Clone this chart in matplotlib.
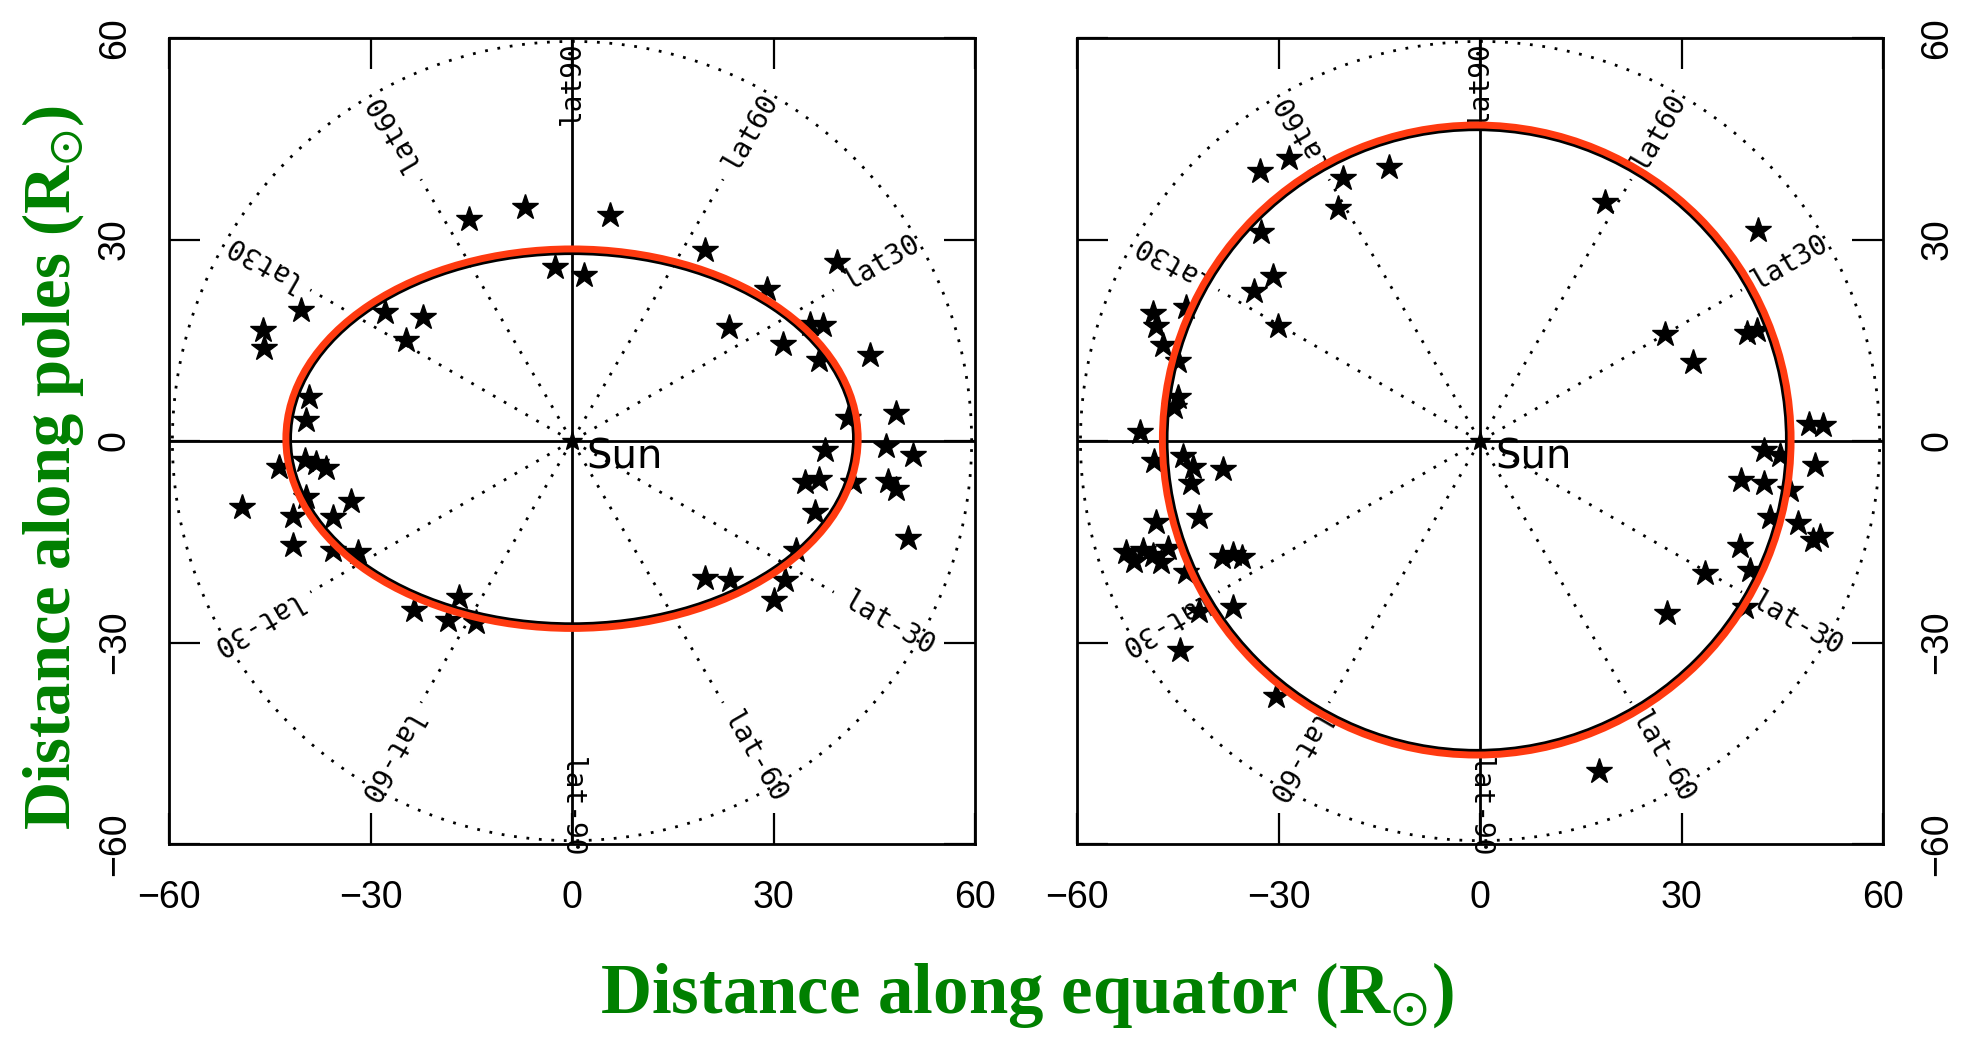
import numpy as np
import matplotlib
matplotlib.use('Agg')
import matplotlib.pyplot as plt
from matplotlib.patches import Ellipse

plt.rcParams['font.family'] = ['Liberation Sans', 'DejaVu Sans']
plt.rcParams['mathtext.fontset'] = 'stix'

# event positions (R_sun): x along equator, y along poles
left_x = [-46.0, -45.9, -40.3, -27.9, -22.2, -24.7,
          -15.4, -7.0, 5.7, -2.5, 1.8,
          19.8, 29.0, 39.4, 23.3, 31.4, 35.4, 37.4,
          36.7, 44.3, 41.1, 48.3,
          -39.1, -39.6,
          -43.6, -39.8, -38.1, -36.6,
          -49.1, -39.6, -32.9, -41.6, -35.6,
          -41.6, -35.6, -31.9,
          -23.5, -18.5, -16.8, -14.3,
          37.6, 46.8, 50.8,
          34.7, 36.7, 41.9, 47.0, 48.3,
          36.2, 50.0, 33.4,
          19.8, 23.5, 31.7, 30.0]
left_y = [16.5, 13.8, 19.5, 19.2, 18.5, 15.0,
          33.1, 34.9, 33.6, 25.9, 24.7,
          28.4, 22.7, 26.7, 17.0, 14.5, 17.5, 17.3,
          12.1, 12.8, 3.4, 4.1,
          6.6, 3.1,
          -3.8, -2.8, -3.3, -4.0,
          -9.8, -8.3, -9.0, -11.2, -11.3,
          -15.5, -16.2, -16.5,
          -25.1, -26.6, -23.2, -27.0,
          -1.3, -0.8, -2.1,
          -6.1, -5.6, -6.1, -6.0, -7.2,
          -10.5, -14.5, -16.2,
          -20.4, -20.7, -20.7, -23.7]

right_x = [-32.8, -28.4, -20.4, -13.5, -21.2,
           -32.6, -30.9, -33.6, -30.1,
           -48.7, -43.8, -48.2, -47.2, -45.0,
           -45.5, -45.0, -50.7,
           -48.5, -44.2, -42.8, -38.3, -43.0,
           -41.8, -48.2,
           -52.7, -51.5, -50.2, -48.7, -47.5, -46.5,
           -38.5, -36.8, -35.5,
           -43.8, -41.8, -36.8, -44.7, -30.4,
           18.6, 41.4, 27.5, 31.7, 39.7, 41.2,
           48.9, 51.1, 42.2, 44.6, 49.9,
           38.9, 42.2, 46.1,
           43.2, 47.4, 49.6, 50.6, 38.7,
           40.2, 33.5, 39.4, 27.8, 17.7]
right_y = [40.2, 42.2, 39.1, 40.8, 34.7,
           31.1, 24.5, 22.3, 17.1,
           19.0, 19.9, 17.1, 14.3, 11.9,
           5.0, 6.5, 1.4,
           -3.0, -2.2, -3.8, -4.1, -6.3,
           -11.3, -12.1,
           -16.5, -17.8, -16.2, -17.0, -18.0, -16.0,
           -17.3, -16.8, -17.2,
           -19.5, -25.3, -24.7, -31.1, -37.9,
           35.6, 31.4, 16.0, 11.7, 16.1, 16.6,
           2.6, 2.4, -1.3, -2.1, -3.6,
           -5.8, -6.3, -7.3,
           -11.3, -12.2, -14.7, -14.2, -15.7,
           -19.2, -19.7, -24.7, -25.6, -49.1]

# fitted ellipses: centre x, centre y, semi-axis x, semi-axis y
left_fit = (0.0, 0.35, 42.6, 28.25)
right_fit = (-0.5, 0.15, 46.8, 46.9)

ticks = [-60, -30, 0, 30, 60]
tick_labels = ['\u221260', '\u221230', '0', '30', '60']
spoke_angles = [30, 60, 120, 150, 210, 240, 300, 330]
lat_angles = [90, 60, 30, -30, -60, -90, 120, 150, 210, 240]
lat_names = ['lat90', 'lat60', 'lat30', 'lat-30', 'lat-60', 'lat-90',
             'lat60', 'lat30', 'lat-30', 'lat-60']

dots = (0, (1, 3.5))


def draw_panel(ax, xs, ys, fit, side):
    ax.set_xlim(-60, 60)
    ax.set_ylim(-60, 60)
    ax.axhline(0, color='k', lw=2)
    ax.axvline(0, color='k', lw=2)

    th = np.linspace(0, 2 * np.pi, 500)
    ax.plot(59.5 * np.cos(th), 59.5 * np.sin(th), color='k', lw=2, ls=dots)
    for a in spoke_angles:
        t = np.radians(a)
        ax.plot([2 * np.cos(t), 45 * np.cos(t)], [2 * np.sin(t), 45 * np.sin(t)],
                color='k', lw=2, ls=dots)
    for a, name in zip(lat_angles, lat_names):
        t = np.radians(a)
        ax.text(47 * np.cos(t), 47 * np.sin(t), name, rotation=a,
                rotation_mode='anchor', ha='left', va='center',
                family='DejaVu Sans Mono', fontsize=20)

    ax.plot(0, 0, marker='*', ms=15, color='k')
    ax.text(2.2, -2.5, 'Sun', family='DejaVu Sans', fontsize=29,
            ha='left', va='center')
    ax.plot(xs, ys, ls='none', marker='*', ms=19, color='k')

    cx, cy, a, b = fit
    ax.add_patch(Ellipse((cx, cy), 2 * (a - 0.55), 2 * (b - 0.55), fill=False,
                         ec='k', lw=3.5, zorder=4))
    ax.add_patch(Ellipse((cx, cy), 2 * a, 2 * b, fill=False,
                         ec='#ff3a10', lw=5, zorder=5))

    ax.set_xticks(ticks)
    ax.set_yticks(ticks)
    ax.set_xticklabels(tick_labels)
    ax.set_yticklabels(tick_labels)
    ax.tick_params(direction='in', length=22, width=1.6, top=True, right=True,
                   pad=26, labelsize=27,
                   labelleft=(side == 'left'), labelright=(side == 'right'))
    for lab in ax.get_yticklabels():
        lab.set_rotation(90)
        lab.set_va('center')
    for s in ax.spines.values():
        s.set_linewidth(2)


fig = plt.figure(figsize=(19.63, 10.37), dpi=100)
ax1 = fig.add_axes([0.0861, 0.1861, 0.4106, 0.7772])
ax2 = fig.add_axes([0.5487, 0.1861, 0.4106, 0.7772])

draw_panel(ax1, left_x, left_y, left_fit, 'left')
draw_panel(ax2, right_x, right_y, right_fit, 'right')

green = '#008000'
fig.text(0.523, 0.040, 'Distance along equator (R$_{\\odot}$)', color=green,
         fontsize=51, fontweight='bold', family='Liberation Serif',
         ha='center', va='center')
fig.text(0.027, 0.549, 'Distance along poles (R$_{\\odot}$)', color=green,
         fontsize=48, fontweight='bold', family='Liberation Serif',
         ha='center', va='center', rotation=90)

fig.savefig('out.png', dpi=100)
